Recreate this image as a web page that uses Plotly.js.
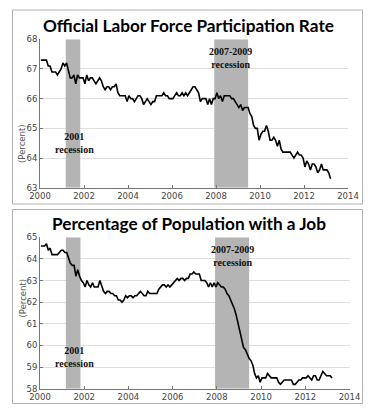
<!DOCTYPE html>
<html>
<head>
<meta charset="utf-8">
<script src="https://cdn.plot.ly/plotly-3.0.1.min.js"></script>
<style>html,body{margin:0;padding:0;background:#fff;}#chart{width:377px;height:414px;}</style>
</head>
<body>
<div id="chart"></div>
<script>
// Monthly data, Jan 2000 - Mar 2013
const startYear = 2000;
const lfpr = [
  67.3,67.3,67.3,67.3,67.1,67.1,66.9,66.9,66.9,66.8,66.9,67.0,
  67.2,67.1,67.2,66.9,66.7,66.7,66.8,66.5,66.8,66.7,66.7,66.7,
  66.5,66.8,66.6,66.7,66.7,66.6,66.5,66.6,66.7,66.6,66.4,66.3,
  66.4,66.4,66.3,66.4,66.4,66.5,66.2,66.1,66.1,66.1,66.1,65.9,
  66.1,66.0,66.0,65.9,66.0,66.1,66.1,66.0,65.8,65.9,66.0,65.9,
  65.8,65.9,65.9,66.1,66.1,66.1,66.1,66.2,66.1,66.1,66.0,66.0,
  66.0,66.1,66.2,66.1,66.1,66.2,66.1,66.2,66.1,66.2,66.3,66.4,
  66.4,66.3,66.2,65.9,66.0,66.0,66.0,65.8,66.0,65.8,66.0,66.0,
  66.2,66.0,66.1,65.9,66.1,66.1,66.1,66.1,66.0,66.0,65.9,65.8,
  65.7,65.8,65.6,65.7,65.7,65.7,65.5,65.4,65.1,65.0,65.0,64.6,
  64.8,64.9,64.9,65.1,64.9,64.6,64.6,64.7,64.6,64.4,64.6,64.3,
  64.2,64.2,64.2,64.2,64.2,64.1,64.0,64.1,64.2,64.1,64.1,64.0,
  63.7,63.9,63.8,63.6,63.8,63.8,63.7,63.5,63.6,63.8,63.6,63.6,
  63.6,63.5,63.3
];
const empRatio = [
  64.6,64.6,64.6,64.7,64.4,64.5,64.2,64.2,64.2,64.2,64.3,64.4,
  64.4,64.3,64.3,64.0,63.8,63.7,63.7,63.2,63.5,63.2,63.0,62.9,
  62.7,63.0,62.8,62.7,62.9,62.7,62.7,62.7,63.0,62.7,62.5,62.4,
  62.5,62.5,62.4,62.4,62.3,62.3,62.1,62.1,62.0,62.1,62.3,62.2,
  62.3,62.3,62.2,62.3,62.3,62.4,62.5,62.4,62.3,62.3,62.5,62.4,
  62.4,62.4,62.4,62.4,62.6,62.7,62.8,62.8,62.7,62.8,62.7,62.8,
  62.9,63.0,63.1,63.0,63.1,63.1,63.0,63.1,63.1,63.3,63.3,63.4,
  63.3,63.3,63.3,63.0,63.0,63.0,62.9,62.7,62.9,62.7,62.9,62.7,
  62.9,62.8,62.7,62.7,62.6,62.4,62.3,62.1,61.9,61.7,61.4,61.0,
  60.6,60.3,59.9,59.8,59.6,59.4,59.3,59.1,58.7,58.5,58.6,58.3,
  58.5,58.5,58.5,58.7,58.6,58.5,58.5,58.5,58.5,58.3,58.2,58.3,
  58.4,58.4,58.4,58.4,58.4,58.2,58.2,58.3,58.4,58.4,58.5,58.5,
  58.5,58.6,58.5,58.4,58.6,58.6,58.4,58.4,58.6,58.8,58.7,58.6,
  58.6,58.6,58.5
];
const recessionStart = [2001.17, 2007.92];
const recessionEnd   = [2001.83, 2009.46];
const recessionLabels = ["2001<br>recession", "2007-2009<br>recession"];
const xTicks = [2000, 2002, 2004, 2006, 2008, 2010, 2012, 2014];
const topRange = [63, 68];
const bottomRange = [58, 65];
const topTitle = "Official Labor Force Participation Rate";
const bottomTitle = "Percentage of Population with a Job";
const yLabel = "(Percent)";

const W = 377, H = 414;
const px = v => v / W;
const py = v => 1 - v / H;

function months(arr) { return arr.map((_, i) => startYear + (i + 0.5) / 12); }

const traces = [
  {x: months(lfpr), y: lfpr, xaxis: 'x', yaxis: 'y', type: 'scatter', mode: 'lines',
   line: {color: '#000', width: 1.6}, hoverinfo: 'skip'},
  {x: months(empRatio), y: empRatio, xaxis: 'x2', yaxis: 'y2', type: 'scatter', mode: 'lines',
   line: {color: '#000', width: 1.6}, hoverinfo: 'skip'}
];

const tickFont = {family: 'DejaVu Sans', size: 8.5, color: '#444'};
function xax(domain, anchor) {
  return {domain: domain, anchor: anchor, range: [2000, 2014], tickvals: xTicks,
    ticktext: xTicks.map(String), showgrid: false, zeroline: false, showline: true,
    linecolor: '#777', linewidth: 1, ticks: 'inside', ticklen: 3, tickcolor: '#777',
    tickfont: tickFont, fixedrange: true};
}
function yax(domain, anchor, range) {
  return {domain: domain, anchor: anchor, range: range, dtick: 1, showgrid: true,
    gridcolor: '#dedede', gridwidth: 1, zeroline: false, showline: true,
    linecolor: '#777', linewidth: 1, ticks: 'inside', ticklen: 3, tickcolor: '#777',
    tickfont: tickFont, fixedrange: true};
}

const shapes = [
  {type: 'rect', xref: 'paper', yref: 'paper', x0: px(12.5), x1: px(362.5), y0: py(204), y1: py(10),
   line: {color: '#b0b0b0', width: 1}, fillcolor: 'rgba(0,0,0,0)'},
  {type: 'rect', xref: 'paper', yref: 'paper', x0: px(12.5), x1: px(362.5), y0: py(403.5), y1: py(209.5),
   line: {color: '#b0b0b0', width: 1}, fillcolor: 'rgba(0,0,0,0)'}
];
const axesPairs = [['x', 'y', topRange], ['x2', 'y2', bottomRange]];
axesPairs.forEach(p => {
  recessionStart.forEach((s, i) => {
    shapes.push({type: 'rect', xref: p[0], yref: p[1], x0: s, x1: recessionEnd[i],
      y0: p[2][0], y1: p[2][1], fillcolor: '#b4b4b4', line: {width: 0}, layer: 'between'});
  });
});

const titleFont = {family: 'Lato', size: 17.2, color: '#000', weight: 'bold'};
const annFont = {family: 'Liberation Serif', size: 10, color: '#111', weight: 'bold'};
const annotations = [
  {text: '<b>' + topTitle + '</b>', xref: 'paper', yref: 'paper', x: px(188), y: py(25),
   showarrow: false, font: titleFont, xanchor: 'center', yanchor: 'middle'},
  {text: '<b>' + bottomTitle + '</b>', xref: 'paper', yref: 'paper', x: px(188.5), y: py(224),
   showarrow: false, font: titleFont, xanchor: 'center', yanchor: 'middle'},
  {text: yLabel, xref: 'paper', yref: 'paper', x: px(14.5), y: py(122), textangle: -90,
   showarrow: false, font: {family: 'DejaVu Sans', size: 8.5, color: '#555'}},
  {text: yLabel, xref: 'paper', yref: 'paper', x: px(15), y: py(320), textangle: -90,
   showarrow: false, font: {family: 'DejaVu Sans', size: 8.5, color: '#555'}},
  {text: '<b>' + recessionLabels[0] + '</b>', xref: 'paper', yref: 'paper', x: px(74), y: py(143),
   showarrow: false, font: annFont, xanchor: 'center', yanchor: 'middle'},
  {text: '<b>' + recessionLabels[1] + '</b>', xref: 'paper', yref: 'paper', x: px(230), y: py(58),
   showarrow: false, font: annFont, xanchor: 'center', yanchor: 'middle'},
  {text: '<b>' + recessionLabels[0] + '</b>', xref: 'paper', yref: 'paper', x: px(74), y: py(357),
   showarrow: false, font: annFont, xanchor: 'center', yanchor: 'middle'},
  {text: '<b>' + recessionLabels[1] + '</b>', xref: 'paper', yref: 'paper', x: px(232), y: py(256),
   showarrow: false, font: annFont, xanchor: 'center', yanchor: 'middle'}
];

const layout = {
  width: W, height: H, margin: {l: 0, r: 0, t: 0, b: 0},
  paper_bgcolor: '#fff', plot_bgcolor: '#fff', showlegend: false,
  xaxis: xax([px(40), px(348)], 'y'),
  yaxis: yax([py(187.7), py(39.3)], 'x', topRange),
  xaxis2: xax([px(40), px(349.5)], 'y2'),
  yaxis2: yax([py(388.7), py(237.3)], 'x2', bottomRange),
  shapes: shapes, annotations: annotations
};

Plotly.newPlot('chart', traces, layout, {staticPlot: true, displayModeBar: false});
</script>
</body>
</html>
